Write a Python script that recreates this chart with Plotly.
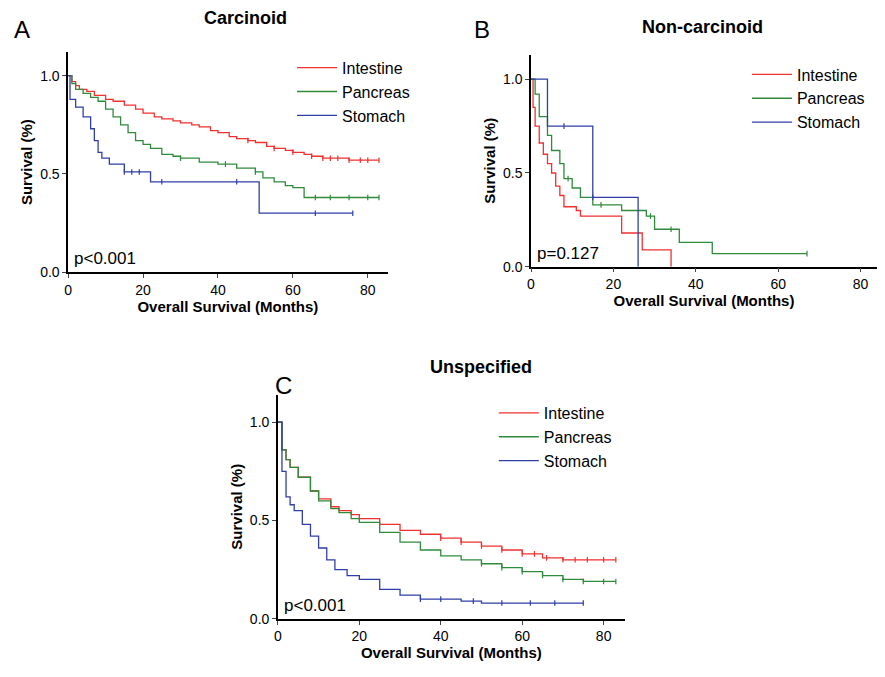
import plotly.graph_objects as go

RED, GREEN, BLUE = "#f0312e", "#2f8a3c", "#2f3fa8"
groups = ["Intestine", "Pancreas", "Stomach"]
colors = [RED, GREEN, BLUE]

# Panel A - Carcinoid
a_int_t = [0, 1, 2, 3, 5, 7, 10, 12, 15, 18, 20, 23, 25, 28, 30, 33, 35, 38, 40, 43, 45, 48, 50, 53, 55, 58, 60, 63, 65, 68, 70, 75, 83]
a_int_s = [1, 0.97, 0.95, 0.93, 0.92, 0.90, 0.88, 0.87, 0.85, 0.83, 0.81, 0.79, 0.78, 0.77, 0.76, 0.75, 0.74, 0.72, 0.71, 0.69, 0.68, 0.67, 0.66, 0.64, 0.63, 0.62, 0.61, 0.60, 0.59, 0.58, 0.58, 0.57, 0.57]
a_pan_t = [0, 1, 2, 4, 6, 8, 10, 12, 14, 16, 18, 20, 22, 25, 28, 30, 35, 40, 45, 50, 52, 55, 58, 60, 63, 83]
a_pan_s = [1, 0.96, 0.93, 0.91, 0.89, 0.87, 0.83, 0.79, 0.75, 0.71, 0.67, 0.65, 0.63, 0.60, 0.59, 0.58, 0.56, 0.55, 0.53, 0.51, 0.48, 0.46, 0.44, 0.43, 0.38, 0.38]
a_sto_t = [0, 0.5, 2, 4, 6, 7, 8, 9, 11, 15, 22, 51, 76]
a_sto_s = [1, 0.88, 0.84, 0.79, 0.73, 0.67, 0.61, 0.58, 0.55, 0.51, 0.46, 0.30, 0.30]
a_cens = [[48, 55, 60, 65, 68, 70, 72, 75, 78, 80, 83], [30, 42, 50, 66, 70, 75, 80, 83], [15, 17, 19, 25, 45, 66, 76]]

# Panel B - Non-carcinoid
b_int_t = [0, 0.5, 1, 2, 3, 4, 5, 6, 7, 8, 11, 12, 20, 22, 26, 27, 32, 34]
b_int_s = [1, 0.85, 0.75, 0.66, 0.60, 0.55, 0.50, 0.43, 0.38, 0.32, 0.30, 0.27, 0.27, 0.18, 0.18, 0.09, 0.09, 0.0]
b_pan_t = [0, 1, 2, 4, 5, 7, 8, 10, 12, 15, 22, 28, 30, 36, 44, 67]
b_pan_s = [1, 0.92, 0.80, 0.70, 0.62, 0.55, 0.47, 0.42, 0.37, 0.33, 0.30, 0.27, 0.20, 0.13, 0.07, 0.07]
b_sto_t = [0, 4, 15, 26, 26]
b_sto_s = [1, 0.75, 0.37, 0.37, 0.0]
b_cens = [[], [9, 17, 29, 34, 67], [8, 15]]

# Panel C - Unspecified
c_int_t = [0, 1, 2, 3, 5, 8, 10, 13, 15, 18, 20, 25, 30, 35, 40, 45, 50, 55, 60, 65, 70, 83]
c_int_s = [1, 0.86, 0.81, 0.77, 0.72, 0.65, 0.61, 0.57, 0.55, 0.53, 0.51, 0.48, 0.45, 0.43, 0.41, 0.39, 0.37, 0.35, 0.33, 0.31, 0.30, 0.30]
c_pan_t = [0, 1, 2, 3, 5, 8, 10, 13, 15, 18, 20, 25, 30, 35, 40, 45, 50, 55, 60, 65, 70, 75, 83]
c_pan_s = [1, 0.86, 0.81, 0.77, 0.72, 0.65, 0.60, 0.56, 0.54, 0.51, 0.49, 0.44, 0.39, 0.35, 0.32, 0.30, 0.28, 0.26, 0.24, 0.22, 0.20, 0.19, 0.19]
c_sto_t = [0, 1, 2, 3, 4, 6, 8, 10, 12, 14, 17, 20, 25, 30, 35, 45, 50, 75]
c_sto_s = [1, 0.75, 0.62, 0.58, 0.55, 0.48, 0.42, 0.36, 0.30, 0.25, 0.22, 0.20, 0.15, 0.12, 0.10, 0.09, 0.08, 0.08]
c_cens = [[40, 45, 50, 55, 60, 63, 66, 70, 73, 76, 80, 83], [50, 55, 60, 65, 70, 75, 80, 83], [35, 40, 48, 55, 62, 68, 75]]

p_values = ["p<0.001", "p=0.127", "p<0.001"]
titles = ["Carcinoid", "Non-carcinoid", "Unspecified"]
letters = ["A", "B", "C"]


def step_at(ts, ss, t):
    v = ss[0]
    for ti, si in zip(ts, ss):
        if ti <= t:
            v = si
    return v


# page body adds 8px offset; compensate in the domains
dx, dy = 8 / 885, 8 / 677
panels = [
    dict(curves=[(a_int_t, a_int_s), (a_pan_t, a_pan_s), (a_sto_t, a_sto_s)], cens=a_cens,
         xd=[0.077 - dx, 0.438 - dx], yd=[0.598 + dy, 0.923 + dy], yr=[0, 1.12], xr=[0, 85.3]),
    dict(curves=[(b_int_t, b_int_s), (b_pan_t, b_pan_s), (b_sto_t, b_sto_s)], cens=b_cens,
         xd=[0.600 - dx, 0.991 - dx], yd=[0.606 + dy, 0.919 + dy], yr=[0, 1.13], xr=[0, 84]),
    dict(curves=[(c_int_t, c_int_s), (c_pan_t, c_pan_s), (c_sto_t, c_sto_s)], cens=c_cens,
         xd=[0.314 - dx, 0.706 - dx], yd=[0.086 + dy, 0.417 + dy], yr=[0, 1.14], xr=[0, 85.2]),
]
legend_pos = [(0.33 - dx, 0.925 + dy), (0.844 - dx, 0.915 + dy), (0.558 - dx, 0.415 + dy)]
title_pos = [(0.268, 0.985), (0.785, 0.972), (0.534, 0.470)]
letter_pos = [(0.016, 0.968), (0.536, 0.968), (0.311, 0.443)]

fig = go.Figure()
for i, p in enumerate(panels):
    sfx = "" if i == 0 else str(i + 1)
    for g, col, (ts, ss), cens in zip(groups, colors, p["curves"], p["cens"]):
        fig.add_trace(go.Scatter(x=ts, y=ss, mode="lines", line=dict(color=col, width=1.3, shape="hv"),
                                 name=g, xaxis="x" + sfx, yaxis="y" + sfx, legend="legend" + sfx))
        if cens:
            fig.add_trace(go.Scatter(x=cens, y=[step_at(ts, ss, c) for c in cens], mode="markers",
                                     marker=dict(symbol="line-ns-open", size=4, color=col,
                                                 line=dict(color=col, width=1.2)),
                                     showlegend=False, xaxis="x" + sfx, yaxis="y" + sfx))
    ax = dict(domain=p["xd"], range=p["xr"], tickvals=[0, 20, 40, 60, 80], showline=True, linecolor="black",
              linewidth=1.5, ticks="outside", ticklen=4, showgrid=False, zeroline=False, automargin=False,
              anchor="y" + sfx, tickfont=dict(size=14),
              title=dict(text="<b>Overall Survival (Months)</b>", font=dict(size=15), standoff=2))
    ay = dict(domain=p["yd"], range=p["yr"], tickvals=[0, 0.5, 1.0], ticktext=["0.0", "0.5", "1.0"],
              showline=True, linecolor="black", linewidth=1.5, ticks="outside", ticklen=4, showgrid=False,
              zeroline=False, anchor="x" + sfx, tickfont=dict(size=14), automargin=False,
              title=dict(text="<b>Survival (%)</b>", font=dict(size=15), standoff=4))
    fig.layout["xaxis" + sfx] = ax
    fig.layout["yaxis" + sfx] = ay
    lx, ly = legend_pos[i]
    fig.layout["legend" + sfx] = dict(x=lx, y=ly, xanchor="left", yanchor="top", font=dict(size=16),
                                      bgcolor="rgba(0,0,0,0)", tracegroupgap=0, itemwidth=40)
    fig.add_annotation(xref="x" + sfx, yref="y" + sfx, x=1, y=0.01, text=p_values[i], showarrow=False,
                       xanchor="left", yanchor="bottom", font=dict(size=17))
    tx, ty = title_pos[i]
    fig.add_annotation(xref="paper", yref="paper", x=tx, y=ty, text="<b>" + titles[i] + "</b>",
                       xanchor="center", yanchor="middle", showarrow=False, font=dict(size=18))
    lx, ly = letter_pos[i]
    fig.add_annotation(xref="paper", yref="paper", x=lx, y=ly, text=letters[i], showarrow=False,
                       xanchor="center", yanchor="middle", font=dict(size=24))

fig.update_layout(
    width=885, height=677, margin=dict(l=0, r=0, t=0, b=0),
    paper_bgcolor="white", plot_bgcolor="white",
    font=dict(family="Liberation Sans, Arial, sans-serif", color="black"),
)
fig.write_html("out.html")
